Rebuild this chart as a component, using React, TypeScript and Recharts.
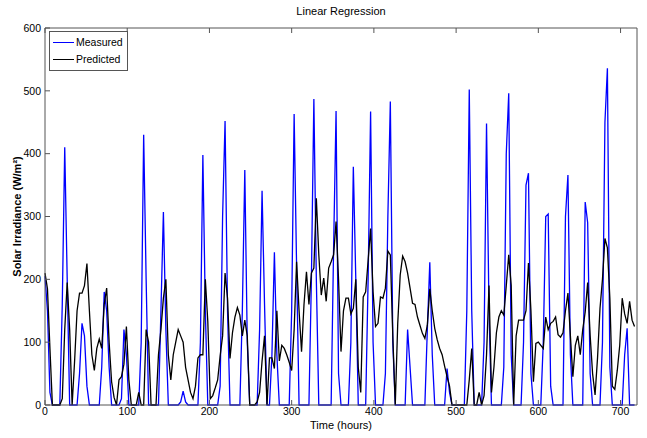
import { Legend, Line, LineChart, XAxis, YAxis } from "recharts"

const HOUR_STEP = 3
const timeTicks = [0, 100, 200, 300, 400, 500, 600, 700]
const irradianceTicks = [0, 100, 200, 300, 400, 500, 600]

// W/m2, sampled every 3 hours, one row per day
const measured = [
  205, 150, 20, 0, 0, 0, 0, 160,
  410, 200, 0, 0, 0, 0, 50, 130,
  110, 30, 0, 0, 0, 0, 0, 60,
  180, 150, 60, 0, 0, 0, 0, 10,
  120, 80, 0, 0, 0, 0, 0, 100,
  430, 200, 0, 0, 0, 0, 0, 150,
  307, 120, 0, 0, 0, 0, 0, 5,
  22, 5, 0, 0, 0, 0, 0, 100,
  398, 150, 0, 0, 0, 0, 0, 30,
  300, 452, 150, 0, 0, 0, 0, 0,
  150, 374, 100, 0, 0, 0, 0, 120,
  341, 160, 0, 0, 80, 243, 80, 0,
  0, 0, 0, 0, 150, 463, 220, 0,
  0, 0, 0, 0, 200, 487, 200, 0,
  0, 0, 0, 0, 0, 250, 468, 50,
  0, 0, 0, 0, 100, 379, 200, 0,
  0, 0, 0, 200, 467, 100, 0, 0,
  0, 0, 50, 300, 483, 100, 0, 0,
  0, 0, 0, 120, 60, 0, 0, 0,
  0, 0, 0, 120, 227, 80, 0, 0,
  0, 0, 0, 58, 20, 0, 0, 0,
  0, 0, 0, 150, 502, 150, 0, 0,
  0, 0, 100, 448, 150, 0, 0, 0,
  0, 0, 60, 400, 496, 80, 0, 0,
  0, 0, 100, 350, 369, 50, 0, 0,
  0, 0, 100, 300, 304, 30, 0, 0,
  0, 0, 0, 300, 366, 80, 0, 0,
  0, 0, 0, 323, 290, 50, 0, 0,
  0, 0, 100, 450, 536, 60, 0, 0,
  0, 0, 0, 80, 122, 0, 0, 0,
]

const predicted = [
  210, 185, 90, 0, 0, 0, 0, 10,
  120, 195, 120, 0, 70, 150, 178, 178,
  190, 225, 150, 80, 55, 90, 105, 90,
  160, 186, 100, 37, 12, 0, 40, 45,
  65, 125, 40, 0, 0, 0, 20, 0,
  0, 120, 100, 0, 0, 0, 80, 120,
  170, 200, 80, 40, 80, 100, 120, 110,
  100, 60, 40, 20, 10, 30, 75, 80,
  80, 200, 133, 10, 15, 27, 40, 78,
  110, 210, 170, 74, 115, 140, 155, 143,
  110, 135, 110, 0, 0, 0, 5, 20,
  70, 110, 0, 75, 75, 58, 150, 70,
  95, 90, 80, 68, 55, 120, 228, 150,
  85, 160, 212, 160, 210, 218, 329, 239,
  175, 202, 165, 218, 228, 239, 292, 200,
  85, 150, 170, 170, 145, 154, 200, 60,
  20, 172, 180, 230, 281, 180, 125, 130,
  172, 170, 186, 245, 239, 110, 0, 130,
  207, 237, 228, 210, 186, 162, 160, 140,
  127, 114, 106, 127, 185, 150, 122, 104,
  90, 80, 62, 45, 30, 0, 0, 0,
  0, 0, 0, 0, 40, 90, 0, 0,
  20, 0, 15, 80, 190, 20, 60, 115,
  140, 150, 143, 190, 239, 190, 0, 110,
  135, 135, 135, 150, 226, 150, 37, 98,
  100, 95, 90, 140, 120, 130, 133, 140,
  112, 108, 115, 150, 178, 110, 45, 95,
  110, 80, 120, 148, 195, 111, 50, 16,
  75, 154, 200, 265, 250, 170, 30, 25,
  55, 95, 170, 145, 130, 165, 135, 125,
]

const data = measured.map((m, i) => ({
  hour: i * HOUR_STEP,
  measured: m,
  predicted: predicted[i],
}))

const font = '"Liberation Sans Narrow", "Liberation Sans", Arial, sans-serif'
const axisColor = "#555"
const tickStyle = { fill: "#000", fontSize: 10.5, fontFamily: font }

function LegendBox({ payload }: any) {
  return (
    <div
      style={{
        border: `1px solid ${axisColor}`,
        background: "#fff",
        padding: "2px 4px 2px 3px",
        fontFamily: font,
        fontSize: 10.5,
        lineHeight: "17px",
      }}
    >
      {(payload || []).map((entry: any) => (
        <div key={entry.value} style={{ display: "flex", alignItems: "center" }}>
          <span
            style={{
              display: "inline-block",
              width: 21,
              height: 0,
              borderTop: `1.5px solid ${entry.color}`,
              marginRight: 2,
            }}
          />
          <span style={{ color: "#000" }}>{entry.value}</span>
        </div>
      ))}
    </div>
  )
}

export default function App() {
  return (
    <div style={{ position: "absolute", left: 0, top: 0, background: "#fff" }}>
      <LineChart
        width={647}
        height={438}
        data={data}
        margin={{ top: 27, right: 9, bottom: 0, left: 0 }}
      >
        <XAxis
          dataKey="hour"
          type="number"
          domain={[0, 720]}
          ticks={timeTicks}
          interval={0}
          height={33}
          tickSize={-5}
          tickMargin={8}
          axisLine={{ stroke: axisColor }}
          tickLine={{ stroke: axisColor }}
          tick={tickStyle}
          label={{
            value: "Time (hours)",
            position: "insideBottom",
            offset: 9,
            fill: "#000",
            fontSize: 11,
            fontFamily: font,
          }}
        />
        <XAxis
          xAxisId="top"
          orientation="top"
          dataKey="hour"
          type="number"
          domain={[0, 720]}
          ticks={timeTicks}
          interval={0}
          height={1}
          tickSize={-5}
          tickFormatter={() => ""}
          axisLine={{ stroke: axisColor }}
          tickLine={{ stroke: axisColor }}
          label={{
            value: "Linear Regression",
            position: "top",
            offset: 12,
            fill: "#000",
            fontSize: 11,
            fontFamily: font,
          }}
        />
        <YAxis
          domain={[0, 600]}
          ticks={irradianceTicks}
          interval={0}
          width={45}
          tickSize={-5}
          tickMargin={9}
          axisLine={{ stroke: axisColor }}
          tickLine={{ stroke: axisColor }}
          tick={tickStyle}
          label={{
            value: "Solar Irradiance (W/m²)",
            angle: -90,
            position: "insideLeft",
            offset: 17,
            fill: "#000",
            fontSize: 11,
            fontWeight: "bold",
            fontFamily: font,
            style: { textAnchor: "middle" },
          }}
        />
        <YAxis
          yAxisId="right"
          orientation="right"
          domain={[0, 600]}
          ticks={irradianceTicks}
          interval={0}
          width={1}
          tickSize={-5}
          tickFormatter={() => ""}
          axisLine={{ stroke: axisColor }}
          tickLine={{ stroke: axisColor }}
        />
        <Legend
          layout="vertical"
          align="center"
          verticalAlign="middle"
          wrapperStyle={{ left: 49, top: 31, width: "auto" }}
          content={<LegendBox />}
        />
        <Line
          name="Measured"
          dataKey="measured"
          stroke="#0000ff"
          strokeWidth={1.3}
          dot={false}
          activeDot={false}
          isAnimationActive={false}
        />
        <Line
          name="Predicted"
          dataKey="predicted"
          stroke="#000000"
          strokeWidth={1.3}
          dot={false}
          activeDot={false}
          isAnimationActive={false}
        />
      </LineChart>
    </div>
  )
}
